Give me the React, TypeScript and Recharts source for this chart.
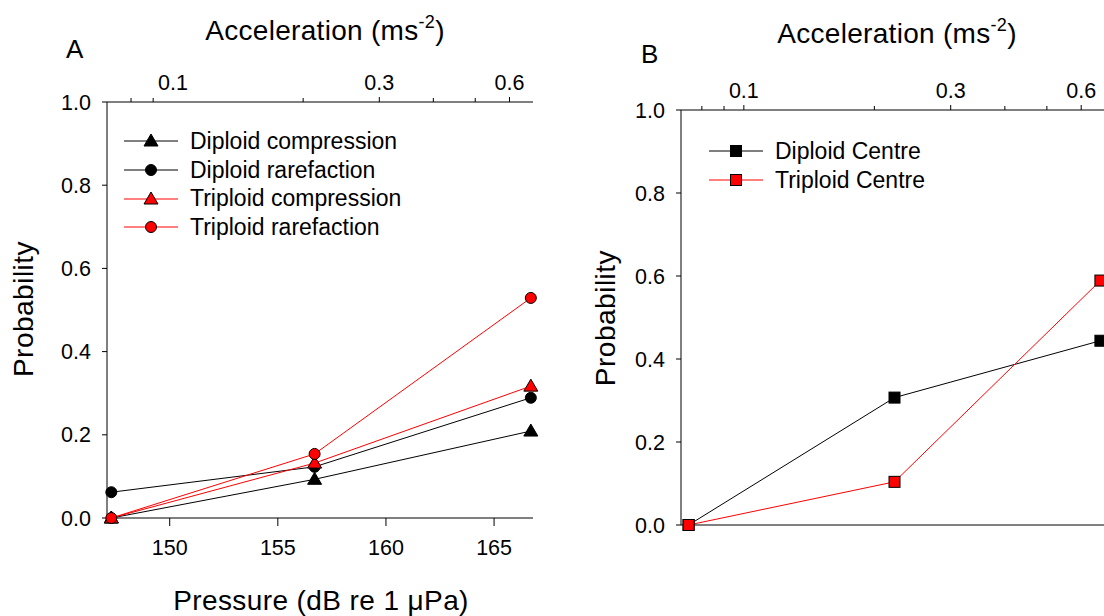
import React from 'react'
import { ComposedChart, Line, XAxis, YAxis, Legend } from 'recharts'

// panel A: pressure (dB re 1 uPa) at which the fish were exposed
const pressureA = [147.3, 156.7, 166.7]
const diploidCompression = [0, 0.093, 0.209]
const diploidRarefaction = [0.062, 0.123, 0.289]
const triploidCompression = [0, 0.132, 0.317]
const triploidRarefaction = [0, 0.154, 0.529]

// panel B
const pressureB = [147.6, 157.1, 166.6]
const diploidCentre = [0, 0.307, 0.444]
const triploidCentre = [0, 0.104, 0.589]

const probTicks = [0, 0.2, 0.4, 0.6, 0.8, 1.0]
const pressureTicks = [150, 155, 160, 165]
const accTicks = [0.08, 0.09, 0.1, 0.2, 0.3, 0.4, 0.5, 0.6]
const accLabels = [0.1, 0.3, 0.6]

const FONT = '"Liberation Sans", Arial, Helvetica, sans-serif'
const RED = '#ff0000'

// acceleration scales with 10^(dB/20); 0.1 ms-2 sits at ~150.15 dB
const accToDb = (a: number) => 150.15 + 20 * Math.log10(a / 0.1)
const dbToAcc = (d: number) => Math.round(0.1 * Math.pow(10, (d - 150.15) / 20) * 100) / 100

const dataA = pressureA.map((p, i) => ({
  p,
  dc: diploidCompression[i],
  dr: diploidRarefaction[i],
  tc: triploidCompression[i],
  tr: triploidRarefaction[i],
}))

const dataB = pressureB.map((p, i) => ({
  p,
  dcen: diploidCentre[i],
  tcen: triploidCentre[i],
}))

type Shape = 'triangle' | 'circle' | 'square'

function Marker({ shape, fill, cx, cy }: { shape: Shape; fill: string; cx: number; cy: number }) {
  if (cx == null || cy == null) return null
  if (shape === 'triangle') {
    const d = `M${cx},${cy - 7} L${cx + 7},${cy + 5} L${cx - 7},${cy + 5} Z`
    return <path d={d} fill={fill} stroke="#000" strokeWidth={1} />
  }
  if (shape === 'square') {
    return <rect x={cx - 5.5} y={cy - 5.5} width={11} height={11} fill={fill} stroke="#000" strokeWidth={1} />
  }
  return <circle cx={cx} cy={cy} r={5.5} fill={fill} stroke="#000" strokeWidth={1} />
}

const seriesA = [
  { key: 'dc', name: 'Diploid compression', color: '#000', shape: 'triangle' as Shape },
  { key: 'dr', name: 'Diploid rarefaction', color: '#000', shape: 'circle' as Shape },
  { key: 'tc', name: 'Triploid compression', color: RED, shape: 'triangle' as Shape },
  { key: 'tr', name: 'Triploid rarefaction', color: RED, shape: 'circle' as Shape },
]

const seriesB = [
  { key: 'dcen', name: 'Diploid Centre', color: '#000', shape: 'square' as Shape },
  { key: 'tcen', name: 'Triploid Centre', color: RED, shape: 'square' as Shape },
]

const tickStyle = { fill: '#000', fontSize: 21.5, fontFamily: FONT }

function TopTick(props: any) {
  const { x, y, payload, hideFirstMajor } = props
  const a = dbToAcc(payload.value)
  const major = accLabels.includes(a)
  const showLine = !(hideFirstMajor && a === 0.1)
  return (
    <g>
      {showLine && <line x1={x} x2={x} y1={y} y2={y - (major ? 5 : 4)} stroke="#000" strokeWidth={1} />}
      {major && (
        <text x={x} y={y - 12} textAnchor="middle" {...tickStyle}>
          {a.toFixed(1)}
        </text>
      )}
    </g>
  )
}

function LegendBox({ items }: { items: typeof seriesA }) {
  return (
    <div style={{ fontFamily: FONT, fontSize: 23, color: '#000' }}>
      {items.map((s) => (
        <div key={s.key} style={{ display: 'flex', alignItems: 'center', height: 28.7 }}>
          <svg width={56} height={20} style={{ marginRight: 10 }}>
            <line x1={0} x2={54} y1={10} y2={10} stroke={s.color} strokeWidth={1} />
            <Marker shape={s.shape} fill={s.color === '#000' ? '#000' : RED} cx={27} cy={10} />
          </svg>
          <span style={{ whiteSpace: 'nowrap' }}>{s.name}</span>
        </div>
      ))}
    </div>
  )
}

export default function App() {
  return (
    <div
      style={{
        position: 'fixed',
        left: 0,
        top: 0,
        width: 1104,
        height: 616,
        overflow: 'hidden',
        background: '#fff',
        fontFamily: FONT,
      }}
    >
      {/* Panel A */}
      <div style={{ position: 'absolute', left: 0, top: 0 }}>
        <ComposedChart width={560} height={616} data={dataA} margin={{ top: 0, right: 27, bottom: 0, left: 0 }}>
          <XAxis
            xAxisId="bottom"
            dataKey="p"
            type="number"
            orientation="bottom"
            domain={[147.1, 166.8]}
            ticks={pressureTicks}
            interval={0}
            height={98}
            tickSize={8}
            tickMargin={14}
            stroke="#000"
            tick={tickStyle}
          />
          <XAxis
            xAxisId="top"
            dataKey="p"
            type="number"
            orientation="top"
            domain={[147.1, 166.8]}
            ticks={accTicks.map(accToDb)}
            interval={0}
            height={102}
            tickSize={0}
            tickMargin={0}
            tickLine={false}
            stroke="#000"
            tick={<TopTick hideFirstMajor />}
          />
          <YAxis
            type="number"
            domain={[0, 1]}
            ticks={probTicks}
            interval={0}
            width={107}
            tickSize={5}
            tickMargin={11}
            stroke="#000"
            tick={tickStyle}
            tickFormatter={(v: number) => v.toFixed(1)}
          />
          <Legend
            layout="horizontal"
            verticalAlign="middle"
            align="center"
            wrapperStyle={{ left: 124, top: 127, width: 'auto' }}
            content={() => <LegendBox items={seriesA} />}
          />
          {seriesA.map((s) => (
            <Line
              key={s.key}
              xAxisId="bottom"
              dataKey={s.key}
              name={s.name}
              stroke={s.color}
              strokeWidth={1}
              isAnimationActive={false}
              dot={(d: any) => <Marker key={`${s.key}-${d.index}`} shape={s.shape} fill={s.color} cx={d.cx} cy={d.cy} />}
              activeDot={false}
            />
          ))}
        </ComposedChart>
      </div>

      {/* Panel B */}
      <div style={{ position: 'absolute', left: 574, top: 0 }}>
        <ComposedChart width={534} height={616} data={dataB} margin={{ top: 0, right: 0, bottom: 0, left: 0 }}>
          <XAxis
            xAxisId="bottom"
            dataKey="p"
            type="number"
            orientation="bottom"
            domain={[147.25, 166.95]}
            height={91}
            tick={false}
            tickLine={false}
            stroke="#000"
          />
          <XAxis
            xAxisId="top"
            dataKey="p"
            type="number"
            orientation="top"
            domain={[147.25, 166.95]}
            ticks={accTicks.map(accToDb)}
            interval={0}
            height={110}
            tickSize={0}
            tickMargin={0}
            tickLine={false}
            stroke="#000"
            tick={<TopTick />}
          />
          <YAxis
            type="number"
            domain={[0, 1]}
            ticks={probTicks}
            interval={0}
            width={107}
            tickSize={5}
            tickMargin={11}
            stroke="#000"
            tick={tickStyle}
            tickFormatter={(v: number) => v.toFixed(1)}
          />
          <Legend
            layout="horizontal"
            verticalAlign="middle"
            align="center"
            wrapperStyle={{ left: 135, top: 137, width: 'auto' }}
            content={() => <LegendBox items={seriesB} />}
          />
          {seriesB.map((s) => (
            <Line
              key={s.key}
              xAxisId="bottom"
              dataKey={s.key}
              name={s.name}
              stroke={s.color}
              strokeWidth={1}
              isAnimationActive={false}
              dot={(d: any) => <Marker key={`${s.key}-${d.index}`} shape={s.shape} fill={s.color} cx={d.cx} cy={d.cy} />}
              activeDot={false}
            />
          ))}
        </ComposedChart>
      </div>

      {/* panel letters and axis titles */}
      <svg width={1104} height={616} style={{ position: 'absolute', left: 0, top: 0, pointerEvents: 'none' }}>
        <g fontFamily={FONT} fill="#000">
          <text x={66} y={58} fontSize={26}>A</text>
          <text x={641} y={63} fontSize={26}>B</text>
          <text x={325} y={40} fontSize={28} textAnchor="middle" letterSpacing={0.3}>
            Acceleration (ms<tspan dy={-12} fontSize={18}>-2</tspan><tspan dy={12}>)</tspan>
          </text>
          <text x={897} y={43} fontSize={28} textAnchor="middle" letterSpacing={0.3}>
            Acceleration (ms<tspan dy={-12} fontSize={18}>-2</tspan><tspan dy={12}>)</tspan>
          </text>
          <text x={321} y={610} fontSize={28} textAnchor="middle" letterSpacing={0.4}>
            Pressure (dB re 1 μPa)
          </text>
          <text x={33} y={309} fontSize={28} textAnchor="middle" letterSpacing={0.5} transform="rotate(-90 33 309)">
            Probability
          </text>
          <text x={615} y={318} fontSize={28} textAnchor="middle" letterSpacing={0.5} transform="rotate(-90 615 318)">
            Probability
          </text>
        </g>
      </svg>
    </div>
  )
}
